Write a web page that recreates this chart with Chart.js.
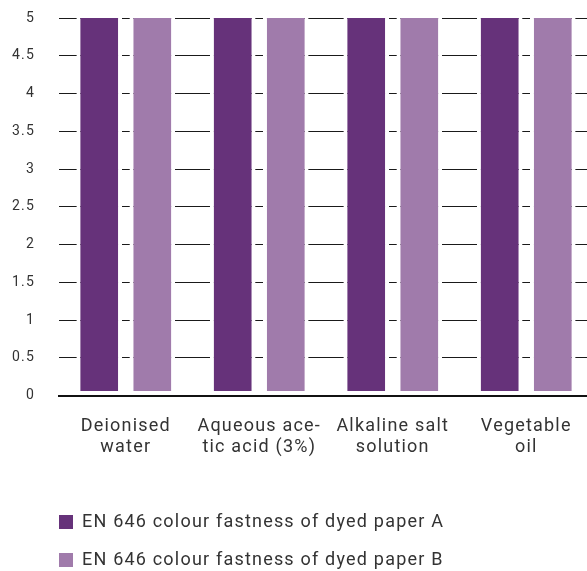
<!DOCTYPE html>
<html>
<head>
<meta charset="utf-8">
<script src="https://cdn.jsdelivr.net/npm/chart.js@4"></script>
<style>
html,body{margin:0;padding:0;background:#fff;overflow:hidden;}
#wrap{width:593px;height:571px;}
</style>
</head>
<body>
<div id="wrap"><canvas id="c"></canvas></div>
<script>
const categories = [["Deionised","water"],["Aqueous ace-","tic acid (3%)"],["Alkaline salt","solution"],["Vegetable","oil"]];
const seriesNames = ["EN 646 colour fastness of dyed paper A","EN 646 colour fastness of dyed paper B"];
const paperA = [5,5,5,5];
const paperB = [5,5,5,5];
const yTicks = [0,0.5,1,1.5,2,2.5,3,3.5,4,4.5,5];

const FONT = "Roboto";
const TEXT = "#333333";

const spacing = {
  id: 'spacing',
  beforeUpdate(chart) { chart.ctx.letterSpacing = '1.2px'; },
  beforeDraw(chart) { chart.ctx.letterSpacing = '1.2px'; },
  afterLayout(chart) {
    if (chart.legend) { chart.legend.left = 39; chart.legend.top += 8; }
  }
};

new Chart(document.getElementById('c'), {
  type: 'bar',
  data: {
    labels: categories,
    datasets: [
      {label: seriesNames[0], data: paperA, backgroundColor: '#66327A', borderColor: '#ffffff', borderWidth: 4, borderSkipped: 'top'},
      {label: seriesNames[1], data: paperB, backgroundColor: '#A07BAB', borderColor: '#ffffff', borderWidth: 4, borderSkipped: 'top'}
    ]
  },
  plugins: [spacing],
  options: {
    responsive: true,
    maintainAspectRatio: false,
    animation: false,
    datasets: {bar: {categoryPercentage: 0.795, barPercentage: 0.86}},
    layout: {padding: {left: 0, top: 18, right: 0, bottom: 0}},
    plugins: {
      tooltip: {enabled: false},
      legend: {
        position: 'bottom',
        align: 'start',
        labels: {
          boxWidth: 14, boxHeight: 14, padding: 20,
          color: TEXT,
          font: {family: FONT, size: 18},
          generateLabels: (chart) => Chart.defaults.plugins.legend.labels.generateLabels(chart).map(l => Object.assign(l, {lineWidth: 0}))
        }
      }
    },
    scales: {
      x: {
        z: 1,
        grid: {display: false, drawTicks: false},
        border: {display: true, color: '#111', width: 2},
        ticks: {color: TEXT, font: {family: FONT, size: 18, lineHeight: 1.2}, padding: 20, maxRotation: 0, autoSkip: false},
        afterFit: (s) => { s.height = 89.5; }
      },
      y: {
        min: 0, max: 5,
        afterBuildTicks: (s) => { s.ticks = yTicks.map(v => ({value: v})); },
        grid: {color: '#1a1a1a', lineWidth: 1, drawTicks: false},
        border: {display: false},
        ticks: {color: TEXT, font: {family: FONT, size: 14}, padding: 24, callback: (v) => String(v)},
        afterFit: (s) => { s.width = 59; s.paddingTop = 0; s.paddingBottom = 0; }
      }
    }
  }
});
</script>
</body>
</html>
